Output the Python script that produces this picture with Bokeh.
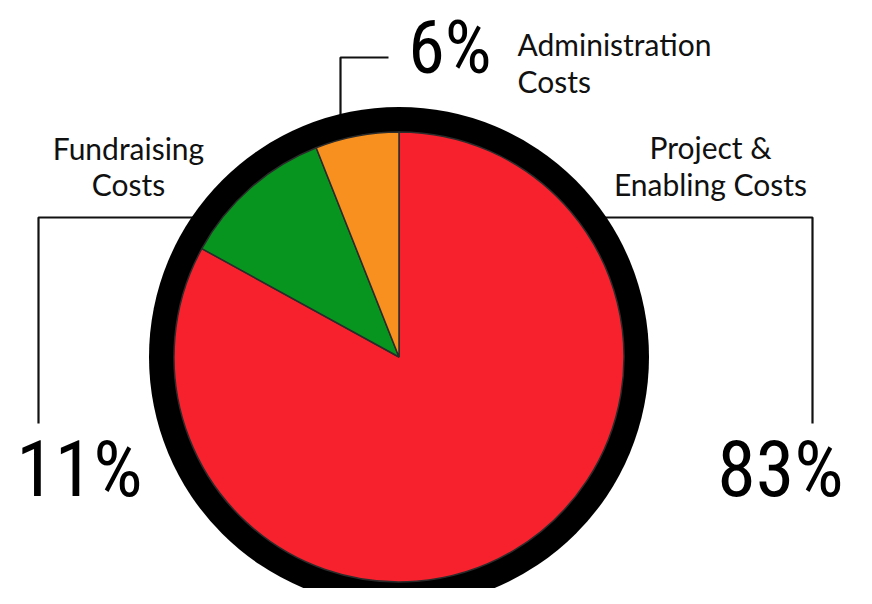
from bokeh.plotting import figure
from bokeh.models import Range1d
from bokeh.core.properties import value
from bokeh.embed import file_html
from bokeh.resources import INLINE
import math

categories = ["Project & Enabling Costs", "Fundraising Costs", "Administration Costs"]
shares = [83, 11, 6]
colors = ["#F6212D", "#07951F", "#F7901E"]
pct_labels = ["83%", "11%", "6%"]
name_lines = [["Project &", "Enabling Costs"], ["Fundraising", "Costs"], ["Administration", "Costs"]]

W, H = 856, 588
p = figure(width=W, height=H, output_backend="svg", toolbar_location=None,
           x_range=Range1d(0, W), y_range=Range1d(604 - H, 604),
           min_border=0, outline_line_color=None)
p.axis.visible = False
p.grid.visible = False
p.background_fill_color = "white"
p.border_fill_color = "white"

def Y(yimg):
    return 604 - yimg

cx, cy = 398.5, Y(356.5)
R_out, R_in = 250, 225

# connector lines (drawn before the ring so they tuck under it)
lc = "#111111"
p.line([340, 340, 388], [Y(120), Y(57), Y(57)], line_color=lc, line_width=2.2)
p.line([200, 38, 38], [Y(217), Y(217), Y(423)], line_color=lc, line_width=2.2)
p.line([600, 812, 812], [Y(217), Y(217), Y(423)], line_color=lc, line_width=2.2)

# black ring
p.circle(x=[cx], y=[cy], radius=R_out, fill_color="black", line_color=None)

# wedges, clockwise from 12 o'clock
total = sum(shares)
cum = 0.0
starts, ends = [], []
for s in shares:
    a0 = cum / total * 2 * math.pi
    cum += s
    a1 = cum / total * 2 * math.pi
    starts.append(math.pi / 2 - a1)
    ends.append(math.pi / 2 - a0)
p.wedge(x=[cx] * 3, y=[cy] * 3, radius=R_in, start_angle=starts, end_angle=ends,
        fill_color=colors, line_color="#2b2b2b", line_width=1.5)

# percentage labels
num_font = value("Roboto Condensed, Open Sans Condensed, DejaVu Sans Condensed, sans-serif")
p.text(x=[780, 79], y=[Y(469), Y(469)], text=pct_labels[:2],
       text_font=num_font, text_font_size="78px",
       text_align="center", text_baseline="alphabetic", text_color="black")
p.text(x=[449.5], y=[Y(47)], text=pct_labels[2:],
       text_font=num_font, text_font_size="74px",
       text_align="center", text_baseline="alphabetic", text_color="black")

# category labels
lx = [710, 128, 517]
ly1 = [Y(146), Y(147), Y(43)]
ly2 = [Y(183), Y(183), Y(80)]
aligns = ["center", "center", "left"]
for i in range(3):
    p.text(x=[lx[i], lx[i]], y=[ly1[i], ly2[i]], text=name_lines[i],
           text_font=value("Lato"), text_font_size="30px",
           text_align=aligns[i], text_baseline="alphabetic", text_color="#111111")

open("out.html", "w").write(file_html(p, INLINE))
